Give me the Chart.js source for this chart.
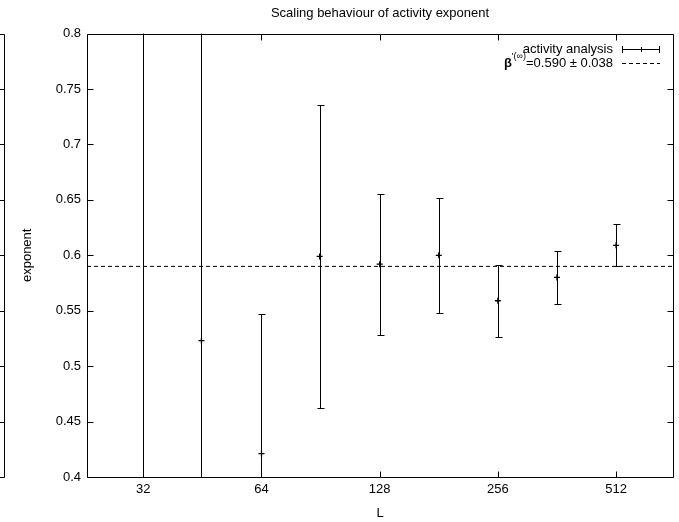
<!DOCTYPE html>
<html>
<head>
<meta charset="utf-8">
<script src="https://cdn.jsdelivr.net/npm/chart.js@4/dist/chart.umd.min.js"></script>
<style>
  html, body { margin: 0; padding: 0; background: #fff; }
</style>
</head>
<body>
<canvas id="chart" width="679" height="522"></canvas>
<script>
// system sizes L and the fitted exponent per size
let sizes = [32, 45, 64, 90, 128, 181, 256, 362, 512];
let exponents = [0.30, 0.523, 0.421, 0.599, 0.592, 0.600, 0.559, 0.580, 0.609];
let errors = [0.60, 0.35, 0.126, 0.137, 0.0635, 0.052, 0.0326, 0.0236, 0.019];

let xTicks = [32, 64, 128, 256, 512];
let yTicks = [0.4, 0.45, 0.5, 0.55, 0.6, 0.65, 0.7, 0.75, 0.8];
let xRange = [23, 715];
let yRange = [0.4, 0.8];

// asymptotic value
let fitValue = 0.590;
let fitError = 0.038;

const FONT = '"Liberation Sans", Arial, Helvetica, sans-serif';

function crisp(v) {
  return Math.round(v) + 0.5;
}

let errorBars = {
  id: 'errorBars',
  beforeDatasetsDraw(chart) {
    const {ctx, chartArea: a, scales: {x, y}} = chart;
    ctx.save();
    ctx.beginPath();
    ctx.rect(a.left, a.top, a.right - a.left, a.bottom - a.top);
    ctx.clip();
    ctx.strokeStyle = '#000';
    ctx.lineWidth = 1;
    sizes.forEach((L, i) => {
      let px = crisp(x.getPixelForValue(L));
      let top = crisp(y.getPixelForValue(exponents[i] + errors[i]));
      let bot = crisp(y.getPixelForValue(exponents[i] - errors[i]));
      ctx.beginPath();
      ctx.moveTo(px, top); ctx.lineTo(px, bot);
      ctx.moveTo(px - 3, top); ctx.lineTo(px + 4, top);
      ctx.moveTo(px - 3, bot); ctx.lineTo(px + 4, bot);
      ctx.stroke();
    });
    ctx.restore();
  }
};

let frame = {
  id: 'frame',
  afterDraw(chart) {
    const {ctx, chartArea: a, scales: {x, y}} = chart;
    let l = crisp(a.left), r = crisp(a.right), t = crisp(a.top), b = crisp(a.bottom);
    ctx.save();
    ctx.strokeStyle = '#000';
    ctx.lineWidth = 1;
    ctx.beginPath();
    ctx.rect(l, t, r - l, b - t);
    yTicks.forEach(v => {
      let py = crisp(y.getPixelForValue(v));
      ctx.moveTo(l, py); ctx.lineTo(l + 6, py);
      ctx.moveTo(r, py); ctx.lineTo(r - 6, py);
      // edge of the neighbouring plot, cut off at the left border
      ctx.moveTo(0, py); ctx.lineTo(4.5, py);
    });
    xTicks.forEach(v => {
      let px = crisp(x.getPixelForValue(v));
      ctx.moveTo(px, b); ctx.lineTo(px, b - 6);
      ctx.moveTo(px, t); ctx.lineTo(px, t + 6);
    });
    ctx.moveTo(4.5, t); ctx.lineTo(4.5, b);
    ctx.stroke();

    // key
    ctx.fillStyle = '#000';
    ctx.textBaseline = 'middle';
    ctx.textAlign = 'right';
    ctx.font = '13px ' + FONT;
    let tx = 613, row1 = 49, row2 = 63;
    ctx.fillText('activity analysis', tx, row1);
    ctx.beginPath();
    ctx.moveTo(622, crisp(row1)); ctx.lineTo(660, crisp(row1));
    ctx.moveTo(622.5, row1 - 3); ctx.lineTo(622.5, row1 + 4);
    ctx.moveTo(659.5, row1 - 3); ctx.lineTo(659.5, row1 + 4);
    ctx.moveTo(641.5, row1 - 2); ctx.lineTo(641.5, row1 + 3);
    ctx.stroke();

    let main = '=' + fitValue.toFixed(3) + ' \u00b1 ' + fitError.toFixed(3);
    ctx.fillText(main, tx, row2);
    let w = ctx.measureText(main).width;
    ctx.font = '9px ' + FONT;
    let sup = '\'(\u221e)';
    ctx.fillText(sup, tx - w, row2 - 6);
    let sw = ctx.measureText(sup).width;
    ctx.font = 'bold 13px ' + FONT;
    ctx.fillText('\u03b2', tx - w - sw, row2);
    ctx.beginPath();
    ctx.setLineDash([4, 3]);
    ctx.moveTo(622, crisp(row2)); ctx.lineTo(660, crisp(row2));
    ctx.stroke();
    ctx.restore();
  }
};

new Chart(document.getElementById('chart'), {
  data: {
    datasets: [
      {
        type: 'scatter',
        label: 'activity analysis',
        data: sizes.map((L, i) => ({x: L, y: exponents[i]})),
        pointStyle: 'cross',
        pointRadius: 3,
        pointBorderWidth: 1.3,
        borderColor: '#000',
        backgroundColor: '#000',
      },
      {
        type: 'line',
        label: 'fit',
        data: xRange.map(v => ({x: v, y: fitValue})),
        borderColor: '#000',
        borderWidth: 1,
        borderDash: [4, 3],
        pointRadius: 0,
        fill: false,
      },
    ],
  },
  options: {
    responsive: false,
    animation: false,
    devicePixelRatio: 1,
    layout: { padding: { left: 0, right: 6, top: 0, bottom: 0 } },
    plugins: {
      legend: { display: false },
      tooltip: { enabled: false },
      title: {
        display: true,
        fullSize: false,
        text: 'Scaling behaviour of activity exponent',
        color: '#000',
        font: { family: FONT, size: 13, weight: 'normal' },
        padding: { top: 6, bottom: 12 },
      },
    },
    scales: {
      x: {
        type: 'logarithmic',
        min: xRange[0],
        max: xRange[1],
        afterBuildTicks: (scale) => { scale.ticks = xTicks.map(v => ({value: v})); },
        afterFit: (scale) => { scale.height = 45; },
        grid: { display: false, drawTicks: false },
        border: { display: false },
        ticks: {
          color: '#000',
          font: { family: FONT, size: 13 },
          padding: 5,
          maxRotation: 0,
          autoSkip: false,
          callback: (v) => String(v),
        },
        title: {
          display: true,
          text: 'L',
          color: '#000',
          font: { family: FONT, size: 13 },
          padding: { top: 0, bottom: 1 },
        },
      },
      y: {
        min: yRange[0],
        max: yRange[1],
        afterBuildTicks: (scale) => { scale.ticks = yTicks.map(v => ({value: v})); },
        afterFit: (scale) => { scale.width = 87; },
        grid: { display: false, drawTicks: false },
        border: { display: false },
        ticks: {
          color: '#000',
          font: { family: FONT, size: 13 },
          padding: 6,
          callback: (v) => String(parseFloat(v.toFixed(2))),
        },
        title: {
          display: true,
          text: 'exponent',
          color: '#000',
          font: { family: FONT, size: 13 },
          padding: { top: 20, bottom: 0 },
        },
      },
    },
  },
  plugins: [errorBars, frame],
});
</script>
</body>
</html>
